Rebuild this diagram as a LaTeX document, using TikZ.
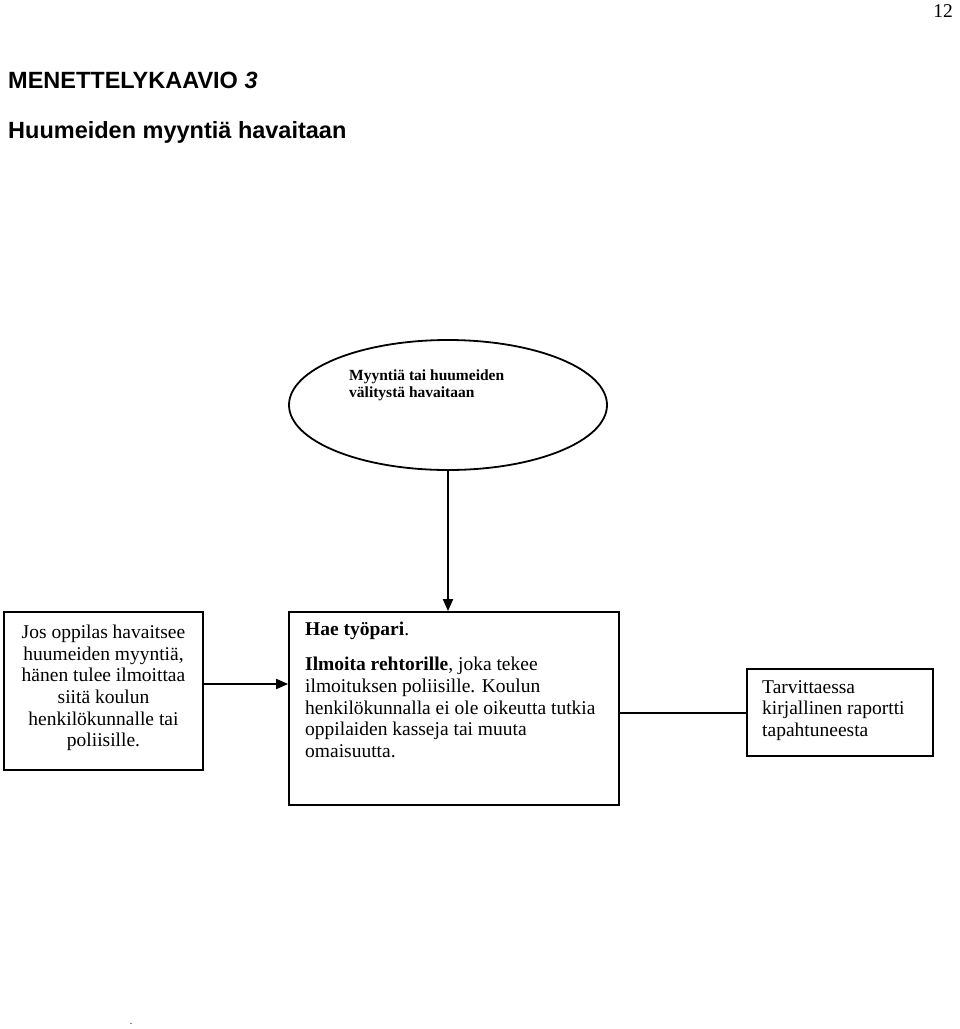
\documentclass[tikz,border=0pt]{standalone}
\usepackage{fontspec}
\setmainfont{Liberation Serif}
\newfontfamily\arialfont{Liberation Sans}
\usetikzlibrary{shapes.geometric,arrows.meta}
\begin{document}
\begin{tikzpicture}[x=1pt,y=-1pt,
  boxshape/.style={draw,line width=1.8pt,inner sep=0pt},
  conn/.style={line width=2pt},
  arr/.style={conn,-{Triangle[length=12pt,width=10pt]}},
  bodytext/.style={font=\fontsize{19.5}{21.6}\selectfont,inner sep=0pt},
  titletext/.style={font=\arialfont\bfseries\fontsize{23.5}{26}\selectfont,inner sep=0pt,anchor=west}
]
\useasboundingbox (0,0) rectangle (960,1029);
% page number
\node[bodytext,anchor=east] (pageno) at (953,11) {12};
% titles
\node[titletext] (title1) at (8,80) {MENETTELYKAAVIO \textit{3}};
\node[titletext] (title2) at (8,132) {Huumeiden myyntiä havaitaan};
% ellipse
\node[draw,ellipse,line width=1.8pt,minimum width=318pt,minimum height=130pt,inner sep=0pt] (ell) at (448,405) {};
\node[font=\bfseries\fontsize{15.5}{17}\selectfont,align=left,anchor=north west,inner sep=0pt] (elltext) at (349,370)
  {Myyntiä tai huumeiden\\välitystä havaitaan};
% left box
\node[boxshape,minimum width=199pt,minimum height=158pt] (left) at (103.5,691) {};
\node[bodytext,align=center] (lefttext) at (103.5,688)
  {Jos oppilas havaitsee\\huumeiden myyntiä,\\hänen tulee ilmoittaa\\siitä koulun\\henkilökunnalle tai\\poliisille.};
% middle box
\node[boxshape,minimum width=330pt,minimum height=193pt] (mid) at (454,708.5) {};
\node[bodytext,align=left,anchor=north west] (midtext) at (305,622)
  {\textbf{Hae työpari}.\\[13.5pt]
   \textbf{Ilmoita rehtorille}, joka tekee\\
   ilmoituksen poliisille. Koulun\\
   henkilökunnalla ei ole oikeutta tutkia\\
   oppilaiden kasseja tai muuta\\
   omaisuutta.};
% right box
\node[boxshape,minimum width=186pt,minimum height=87pt] (right) at (840,712.5) {};
\node[bodytext,align=left,anchor=north west] (righttext) at (762,680)
  {Tarvittaessa\\kirjallinen raportti\\tapahtuneesta};
% connectors
\draw[arr] (ell.south) -- (ell.south |- mid.north);
\draw[arr] (left.east |- 0,684) coordinate (la) -- (mid.west |- la);
\draw[conn] (mid.east |- right.west) -- (right.west);
% stray dot
\node[font=\fontsize{10}{12}\selectfont,inner sep=0pt] (dot) at (131,1024) {.};
\end{tikzpicture}
\end{document}
